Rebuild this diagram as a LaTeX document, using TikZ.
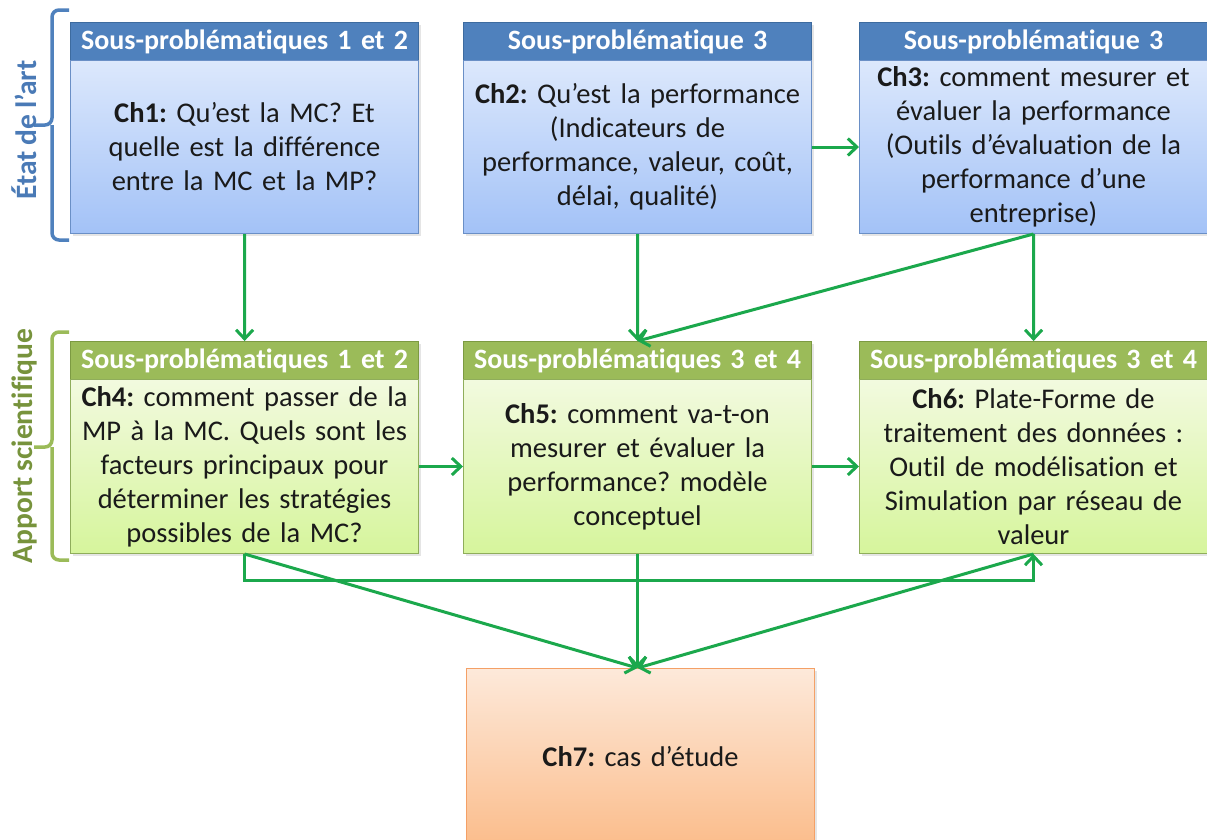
\documentclass[tikz,border=0pt]{standalone}
\usepackage{fontspec}
\setmainfont{Carlito}[Ligatures={NoCommon,NoContextual},Contextuals={NoAlternate},WordSpace=0.85]
\usetikzlibrary{arrows.meta,shadows}
\definecolor{hblue}{HTML}{4F81BD}
\definecolor{hblueline}{HTML}{3D6B9F}
\definecolor{bbluetop}{HTML}{DCE8FC}
\definecolor{bbluebot}{HTML}{A3C2F7}
\definecolor{bblueline}{HTML}{6A8FC6}
\definecolor{hgreen}{HTML}{9BBB59}
\definecolor{hgreenline}{HTML}{7C9A42}
\definecolor{bgreentop}{HTML}{F2FADF}
\definecolor{bgreenbot}{HTML}{D6F59C}
\definecolor{bgreenline}{HTML}{8FAD5B}
\definecolor{orgtop}{HTML}{FDE9DA}
\definecolor{orgbot}{HTML}{FBBD8C}
\definecolor{orgline}{HTML}{F4A066}
\definecolor{arrgreen}{HTML}{1BA84C}
\definecolor{lblblue}{HTML}{4A7AB6}
\definecolor{lblgreen}{HTML}{77933C}
\definecolor{txt}{HTML}{1A1A1A}
\tikzset{
  hdr/.style={anchor=north west, inner xsep=4pt, inner ysep=0pt, text width=340pt, align=center,
    minimum height=38pt, text=white, font=\fontsize{28}{30}\selectfont\bfseries, line width=1.2pt,
    drop shadow={opacity=0.2, shadow xshift=2pt, shadow yshift=-2pt}},
  hdrB/.style={hdr, fill=hblue, draw=hblueline},
  hdrG/.style={hdr, fill=hgreen, draw=hgreenline},
  body/.style={anchor=north west, inner xsep=4pt, inner ysep=0pt, text width=340pt, align=center,
    text=txt, font=\fontsize{28.5}{34}\selectfont, line width=1pt,
    drop shadow={opacity=0.2, shadow xshift=2pt, shadow yshift=-2pt}},
  bodyB/.style={body, top color=bbluetop, bottom color=bbluebot, draw=bblueline, minimum height=173pt},
  bodyG/.style={body, top color=bgreentop, bottom color=bgreenbot, draw=bgreenline, minimum height=174pt},
  bodyO/.style={body, top color=orgtop, bottom color=orgbot, draw=orgline, minimum height=176pt},
  arr/.style={draw=arrgreen, line width=3pt, -{Straight Barb[length=9pt,width=17pt,line width=3pt]}},
  brace/.style={line width=3.5pt, rounded corners=7pt},
}
\begin{document}
\frenchspacing
\begin{tikzpicture}[x=1pt,y=-1pt]
\useasboundingbox (0,0) rectangle (1207,839);
\clip (0,0) rectangle (1207,839);
\fill[white] (0,0) rectangle (1207,839);

% brackets
\draw[brace, draw=hblue] (69,10) -- (52,10) -- (52,125) -- (34,125) (52,125) -- (52,240) -- (69,240);
\node[rotate=90, text=lblblue, font=\fontsize{29.5}{32}\selectfont\bfseries] (lab1) at (24,130) {État de l’art};
\draw[brace, draw=hgreen] (69,332) -- (52,332) -- (52,447) -- (34,447) (52,447) -- (52,560) -- (69,560);
\node[rotate=90, text=lblgreen, font=\fontsize{29.5}{32}\selectfont\bfseries] (lab2) at (24,446) {Apport scientifique};

% top row
\node[hdrB] (h1) at (70,22) {Sous-problématiques 1 et 2};
\node[bodyB] (b1) at (70,60) {\textbf{Ch1:} Qu’est la MC? Et\\quelle est la différence\\entre la MC et la MP?};
\node[hdrB] (h2) at (463,22) {Sous-problématique 3};
\node[bodyB] (b2) at (463,60) {\textbf{Ch2:} Qu’est la performance\\(Indicateurs de\\performance, valeur, coût,\\délai, qualité)};
\node[hdrB] (h3) at (859,22) {Sous-problématique 3};
\node[bodyB] (b3) at (859,60) {\textbf{Ch3:} comment mesurer et\\évaluer la performance\\(Outils d’évaluation de la\\performance d’une\\entreprise)};

% middle row
\node[hdrG] (h4) at (70,341) {Sous-problématiques 1 et 2};
\node[bodyG] (b4) at (70,379) {\textbf{Ch4:} comment passer de la\\MP à la MC. Quels sont les\\facteurs principaux pour\\déterminer les stratégies\\possibles de la MC?};
\node[hdrG] (h5) at (463,341) {Sous-problématiques 3 et 4};
\node[bodyG] (b5) at (463,379) {\textbf{Ch5:} comment va-t-on\\mesurer et évaluer la\\performance? modèle\\conceptuel};
\node[hdrG] (h6) at (859,341) {Sous-problématiques 3 et 4};
\node[bodyG] (b6) at (859,379) {\textbf{Ch6:} Plate-Forme de\\traitement des données :\\Outil de modélisation et\\Simulation par réseau de\\valeur};

% bottom
\node[bodyO] (b7) at (466,668) {\textbf{Ch7:} cas d’étude};

% connectors
\draw[arr] (b1.south) -- (h4.north);
\draw[arr] (b2.south) -- (h5.north);
\draw[arr] (b3.south) -- (h6.north);
\draw[arr] (b3.south) -- (h5.north);
\draw[arr] (b2.east) -- (b3.west);
\draw[arr] (b4.east) -- (b5.west);
\draw[arr] (b5.east) -- (b6.west);
\draw[arr] (b4.south) -- (b7.north -| b5.south);
\draw[arr] (b5.south) -- (b7.north -| b5.south);
\draw[arr] (b6.south) -- (b7.north -| b5.south);
\draw[arr] (b4.south) -- ++(0,26) -| (b6.south);
\end{tikzpicture}
\end{document}
